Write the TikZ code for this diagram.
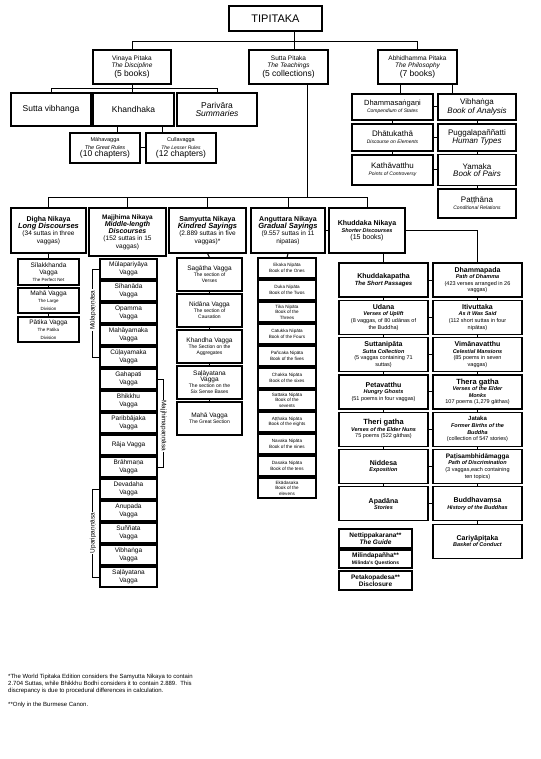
\documentclass[tikz,border=0pt]{standalone}
\usepackage{fontspec}
\setmainfont{Liberation Sans}
\usetikzlibrary{positioning}
\newcommand{\rg}[1]{\normalfont\fontsize{#1}{\fpeval{1.2*#1}}\selectfont}
\newcommand{\ri}[1]{\rg{#1}\itshape}
\newcommand{\bd}[1]{\rg{#1}\bfseries}
\newcommand{\bi}[1]{\rg{#1}\bfseries\itshape}
\tikzset{
  bx/.style={draw, line width=1.2pt, fill=white, align=center, inner sep=1pt},
  dim/.style 2 args={minimum width=#1pt, minimum height=#2pt},
  ln/.style={line width=1pt},
  kk/.style={bx, dim={89}{34}, font=\rg{5.5}},
  brk/.style={rotate=#1, fill=white, inner sep=1pt, font=\rg{6.5}},
}
\begin{document}
\begin{tikzpicture}[x=1pt, y=-1pt, font=\rg{6}]
  \useasboundingbox (0,0) rectangle (540,759);

  % ── the three baskets ───────────────────────────────────
  \node[bx, dim={93}{25}] (tip) at (275.5,18.5) {\rg{11}TIPITAKA};
  \node[bx, dim={78}{34}] (vin) at (132,67)
    {\rg{6.5}Vinaya Pitaka\\\ri{6.5}The Discipline\\\rg{8.5}(5 books)};
  \node[bx, dim={79}{34}] (sut) at (288.5,67)
    {\rg{6.5}Sutta Pitaka\\\ri{6.5}The Teachings\\\rg{8.5}(5 collections)};
  \node[bx, dim={79}{34}] (abh) at (417.5,67)
    {\rg{6.5}Abhidhamma Pitaka\\\ri{6.5}The Philosophy\\\rg{8.5}(7 books)};
  \draw[ln] ([xshift=18.5pt]tip.south) -- ++(0,19);
  \draw[ln] (vin.north) -- ++(0,-8) -| (abh.north);

  % ── vinaya ──────────────────────────────────────────────
  \node[bx, dim={80}{33}] (svb) at (51,109.5) {\rg{8.5}Sutta vibhanga};
  \node[bx, dim={81}{33}] (khd) at (133.5,109.5) {\rg{8.5}Khandhaka};
  \node[bx, dim={80}{33}] (par) at (217,109.5) {\rg{8.5}Parivāra\\\ri{8.5}Summaries};
  \draw[ln] (svb.north) -- ++(0,-4) -| (par.north);
  \draw[ln] (vin.south) -- (vin.south |- khd.north);
  \node[bx, dim={70}{30}] (mhv) at (105,148)
    {\rg{5.5}Māhavagga\\\ri{5.5}The Great Rules\\\rg{8.5}(10 chapters)};
  \node[bx, dim={70}{30}] (cul) at (181,148)
    {\rg{5.5}Cullavagga\\\ri{5}The Lesser Rules\\\rg{8.5}(12 chapters)};
  \draw[ln] ([xshift=12pt]mhv.north) -- ++(0,-7);
  \draw[ln] ([xshift=-19pt]cul.north) -- ++(0,-7);
  \draw[ln] (mhv.east) -- (cul.west);

  % ── abhidhamma ──────────────────────────────────────────
  \node[bx, dim={81}{26}] (dsg) at (392.5,107) {\rg{7.5}Dhammasaṅgaṇi\\\ri{5}Compendium of States};
  \node[bx, dim={78}{26}] (vib) at (477,107) {\rg{8}Vibhaṅga\\\ri{8}Book of Analysis};
  \node[bx, dim={81}{27}] (dtk) at (392.5,137.5) {\rg{8}Dhātukathā\\\ri{5}Discourse on Elements};
  \node[bx, dim={78}{27}] (pug) at (477,137.5) {\rg{8}Puggalapaññatti\\\ri{8}Human Types};
  \node[bx, dim={81}{30}] (kvt) at (392.5,170) {\rg{8}Kathāvatthu\\\ri{5}Points of Controversy};
  \node[bx, dim={78}{31}] (yam) at (477,170) {\rg{8}Yamaka\\\ri{8}Book of Pairs};
  \node[bx, dim={78}{29}] (pat) at (477,203.5) {\rg{8}Paṭṭhāna\\\ri{5}Conditional Relations};
  \draw[ln] ([xshift=7.5pt]dsg.north) -- ++(0,-10);
  \draw[ln] ([xshift=-25pt]vib.north) -- ++(0,-10);
  \draw[ln] (dsg.south) -- (dtk.north);
  \draw[ln] (dtk.south) -- (kvt.north);
  \draw[ln] (vib.south) -- (pug.north);
  \draw[ln] (pug.south) -- (yam.north);
  \draw[ln] (yam.south) -- (pat.north);
  \draw[ln] (dsg.east) -- (vib.west);
  \draw[ln] (dtk.east) -- (pug.west);
  \draw[ln] (kvt.east) -- (yam.west);

  % ── the five nikayas ────────────────────────────────────
  \node[bx, dim={75}{45}] (dig) at (48.5,230.5)
    {\bd{7}Digha Nikaya\\\bi{7.5}Long Discourses\\\rg{6.5}(34 suttas in three\\\rg{6.5}vaggas)};
  \node[bx, dim={77}{48}] (maj) at (127.5,232)
    {\bd{6.5}Majjhima Nikaya\\\bi{7}Middle-length\\\bi{7}Discourses\\\rg{6.5}(152 suttas in 15\\\rg{6.5}vaggas)};
  \node[bx, dim={77}{45}] (sam) at (207.5,230.5)
    {\bd{7}Samyutta Nikaya\\\bi{7.5}Kindred Sayings\\\rg{6.5}(2.889 suttas in five\\\rg{6.5}vaggas)*};
  \node[bx, dim={74}{45}] (ang) at (288,230.5)
    {\bd{7}Anguttara Nikaya\\\bi{7.5}Gradual Sayings\\\rg{6.5}(9.557 suttas in 11\\\rg{6.5}nipatas)};
  \node[bx, dim={76}{45}] (khn) at (367,230.5)
    {\bd{7}Khuddaka Nikaya\\\bi{5.5}Shorter Discourses\\\rg{7}(15 books)};
  \coordinate (bus) at (0,198);
  \draw[ln] ([xshift=18.5pt]sut.south) -- ([xshift=18.5pt]sut.south |- bus);
  \draw[ln] (dig.north) -- (dig.north |- bus) -| (khn.north);
  \foreach \n in {maj,sam,ang} \draw[ln] (\n.north) -- (\n.north |- bus);
  \draw[ln] (ang.east) -- (khn.west);

  % ── digha ───────────────────────────────────────────────
  \node[bx, dim={61}{26}] (dg1) at (48.5,272) {\rg{6.5}Sīlakkhanda\\\rg{6.5}Vagga\\\rg{4.5}The Perfect Net};
  \node[bx, dim={61}{25}] (dg2) at (48.5,300.5) {\rg{6.5}Mahā Vagga\\\rg{4.5}The Large\\\rg{4.5}Division};
  \node[bx, dim={61}{25}] (dg3) at (48.5,329.5) {\rg{6.5}Pātika Vagga\\\rg{4.5}The Patika\\\rg{4.5}Division};
  \draw[ln] (dig.south) -- (dg1.north);
  \draw[ln] (dg1.south) -- (dg2.north);
  \draw[ln] (dg2.south) -- (dg3.north);

  % ── majjhima ────────────────────────────────────────────
  \foreach \nm [count=\i from 0] in {Mūlapariyāya\\Vagga, Sīhanāda\\Vagga, Opamma\\Vagga,
      Mahāyamaka\\Vagga, Cūḷayamaka\\Vagga, Gahapati\\Vagga, Bhikkhu\\Vagga,
      Paribbājaka\\Vagga, Rāja Vagga, Brāhmaṇa\\Vagga, Devadaha\\Vagga, Anupada\\Vagga,
      Suññata\\Vagga, Vibhaṅga\\Vagga, Saḷāyatana\\Vagga}
    \node[bx, dim={57}{20}, font=\rg{6.5}] (mj\i) at (128.5,{269+22*\i}) {\nm};
  \foreach \i [evaluate=\i as \j using int(\i+1)] in {0,...,13}
    \draw[ln] (mj\i.south) -- (mj\j.north);
  \draw[ln] (mj0.west) -- ++(-7,0) |- (mj4.west);
  \node[brk=90] (mula) at (93,310) {Mūlapaṇṇāsa};
  \draw[ln] (mj5.east) -- ++(6,0) |- (mj9.east);
  \node[brk=-90] (majp) at (163.5,426) {Majjhimapaṇṇāsa};
  \draw[ln] (mj10.west) -- ++(-7,0) |- (mj14.west);
  \node[brk=90] (upar) at (93,533) {Uparipaṇṇāsa};

  % ── samyutta ────────────────────────────────────────────
  \foreach \nm [count=\i from 0] in {\rg{6.5}Sagātha Vagga\\\rg{5}The section of\\Verses,
      \rg{6.5}Nidāna Vagga\\\rg{5}The section of\\Causation,
      \rg{6.5}Khandha Vagga\\\rg{5}The Section on the\\Aggregates,
      \rg{6.5}Saḷāyatana\\\rg{6.5}Vagga\\\rg{5}The section on the\\Six Sense Bases,
      \rg{6.5}Mahā Vagga\\\rg{5}The Great Section}
    \node[bx, dim={65}{33}, font=\rg{5}] (sy\i) at (209.5,{274.5+36*\i}) {\nm};
  \draw[ln] (sam.south) -- (sy0.north);
  \foreach \i [evaluate=\i as \j using int(\i+1)] in {0,...,3}
    \draw[ln] (sy\i.south) -- (sy\j.north);

  % ── anguttara ───────────────────────────────────────────
  \foreach \nm [count=\i from 0] in {Ekaka Nipāta\\Book of the Ones, Duka Nipāta\\Book of the Twos,
      Tika Nipāta\\Book of the\\Threes, Catukka Nipāta\\Book of the Fours,
      Pañcaka Nipāta\\Book of the fives, Chakka Nipāta\\Book of the sixes,
      Sattaka Nipāta\\Book of the\\sevents, Aṭṭhaka Nipāta\\Book of the eights,
      Navaka Nipāta\\Book of the nines, Dasaka Nipāta\\Book of the tens,
      Ekādasaka\\Book of the\\elevens}
    \node[bx, dim={58}{20}, font=\rg{4.6}] (an\i) at (287,{268+22*\i}) {\nm};
  \draw[ln] (ang.south) -- (an0.north);
  \foreach \i [evaluate=\i as \j using int(\i+1)] in {0,...,9}
    \draw[ln] (an\i.south) -- (an\j.north);

  % ── khuddaka ────────────────────────────────────────────
  \node[kk] (kl0) at (383.5,280) {\bd{7}Khuddakapatha\\\bi{6}The Short Passages};
  \node[kk] (kr0) at (477.5,280) {\bd{7}Dhammapada\\\bi{5.5}Path of Dhamma\\\rg{5.5}(423 verses arranged in 26\\vaggas)};
  \node[kk] (kl1) at (383.5,317.3) {\bd{7}Udana\\\bi{5.5}Verses of Uplift\\\rg{5.5}(8 vaggas, of 80 udānas of\\the Buddha)};
  \node[kk] (kr1) at (477.5,317.3) {\bd{7}Itivuttaka\\\bi{5.5}As it Was Said\\\rg{5.5}(112 short suttas in four\\nipātas)};
  \node[kk] (kl2) at (383.5,354.6) {\bd{7}Suttanipāta\\\bi{5.5}Sutta Collection\\\rg{5.5}(5 vaggas containing 71\\suttas)};
  \node[kk] (kr2) at (477.5,354.6) {\bd{7}Vimānavatthu\\\bi{5.5}Celestial Mansions\\\rg{5.5}(85 poems in seven\\vaggas)};
  \node[kk] (kl3) at (383.5,391.9) {\bd{7}Petavatthu\\\bi{5.5}Hungry Ghosts\\\rg{5.5}(51 poems in four vaggas)};
  \node[kk] (kr3) at (477.5,391.9) {\bd{7.5}Thera gatha\\\bi{5.5}Verses of the Elder\\\bi{5.5}Monks\\\rg{5.5}107 poems (1,279 gāthas)};
  \node[kk] (kl4) at (383.5,429.2) {\bd{7.5}Theri gatha\\\bi{5.5}Verses of the Elder Nuns\\\rg{5.5}75 poems (522 gāthas)};
  \node[kk] (kr4) at (477.5,429.2) {\bd{6}Jataka\\\bi{5.5}Former Births of the\\\bi{5.5}Buddha\\\rg{5.5}(collection of 547 stories)};
  \node[kk] (kl5) at (383.5,466.5) {\bd{7}Niddesa\\\bi{5.5}Exposition};
  \node[kk] (kr5) at (477.5,466.5) {\bd{6.5}Paṭisambhidāmagga\\\bi{5.5}Path of Discrimination\\\rg{5.5}(3 vaggas,each containing\\ten topics)};
  \node[kk] (kl6) at (383.5,503.8) {\bd{7}Apadāna\\\bi{5.5}Stories};
  \node[kk] (kr6) at (477.5,503.8) {\bd{7}Buddhavaṃsa\\\bi{5.5}History of the Buddhas};
  \node[kk] (kr7) at (477.5,541.1) {\bd{7}Cariyāpiṭaka\\\bi{5.5}Basket of Conduct};
  \draw[ln] (kl0.north |- khn.south) -- (kl0.north);
  \draw[ln] (khn.east) -| (kr0.north);
  \foreach \i [evaluate=\i as \j using int(\i+1)] in {0,...,5}
    \draw[ln] (kl\i.south) -- (kl\j.north);
  \foreach \i [evaluate=\i as \j using int(\i+1)] in {0,...,6}
    \draw[ln] (kr\i.south) -- (kr\j.north);
  \foreach \i in {0,...,6} \draw[ln] (kl\i.east) -- (kr\i.west);
  \node[bx, dim={73}{19}] (net) at (375.5,538.5) {\bd{6.5}Nettippakarana**\\\bi{6.5}The Guide};
  \node[bx, dim={73}{18}] (mil) at (375.5,559) {\bd{6.5}Milindapañha**\\\bd{5}Milinda's Questions};
  \node[bx, dim={73}{19}] (pet) at (375.5,580.5) {\bd{6.5}Petakopadesa**\\\bd{6.5}Disclosure};

  % ── notes ───────────────────────────────────────────────
  \node[anchor=north west, align=left, inner sep=0pt, font=\rg{6}] (fn1) at (8,674)
    {*The World Tipitaka Edition considers the Samyutta Nikaya to contain\\
     2.704 Suttas, while Bhikkhu Bodhi considers it to contain 2.889.\ \ This\\
     discrepancy is due to procedural differences in calculation.};
  \node[below=8pt of fn1.south west, anchor=north west, inner sep=0pt, font=\rg{6}] (fn2)
    {**Only in the Burmese Canon.};
\end{tikzpicture}
\end{document}
